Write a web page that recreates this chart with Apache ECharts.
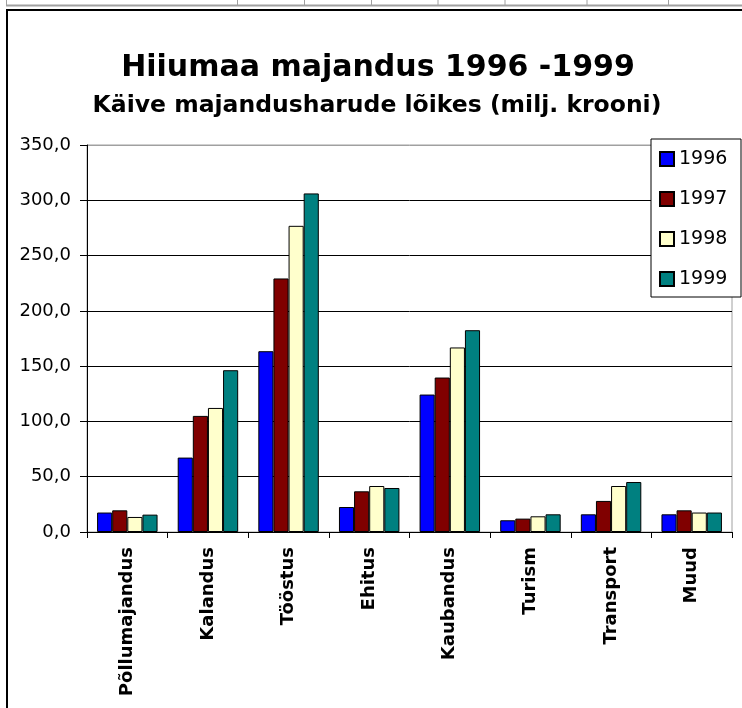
<!DOCTYPE html>
<html>
<head>
<meta charset="utf-8">
<script src="https://cdn.jsdelivr.net/npm/echarts@6/dist/echarts.min.js"></script>
<style>
html,body{margin:0;padding:0;background:#fff;}
#chart{width:742px;height:708px;}
</style>
</head>
<body>
<div id="chart"></div>
<script>
const categories = ['Põllumajandus','Kalandus','Tööstus','Ehitus','Kaubandus','Turism','Transport','Muud'];
const years = ['1996','1997','1998','1999'];
const v1996 = [17.6, 67.3, 163.5, 22.6, 124.3, 10.6, 16.0, 16.0];
const v1997 = [19.6, 105.0, 229.3, 36.8, 139.7, 12.1, 28.1, 19.6];
const v1998 = [13.6, 112.2, 276.9, 41.6, 166.9, 14.2, 41.6, 17.6];
const v1999 = [15.7, 146.3, 306.2, 39.8, 182.5, 16.0, 45.2, 17.6];
const yTickLabels = ['0,0','50,0','100,0','150,0','200,0','250,0','300,0','350,0'];
const colors = ['#0000ff','#800000','#ffffcc','#008080'];
const titleText = 'Hiiumaa majandus 1996 -1999';
const subtitleText = 'Käive majandusharude lõikes (milj. krooni)';

const FONT = 'DejaVu Sans';
const seriesValues = [v1996, v1997, v1998, v1999];

const chart = echarts.init(document.getElementById('chart'), null, {renderer:'canvas'});

const topCells = [6.5, 237.5, 304.5, 371.5, 438, 505, 587, 668.5];
const graphics = [
  {type:'line', shape:{x1:6, y1:5.5, x2:742, y2:5.5}, style:{stroke:'#a0a0a0', lineWidth:2}, silent:true}
];
topCells.forEach(x => graphics.push({type:'line', shape:{x1:x, y1:0, x2:x, y2:5}, style:{stroke:'#a0a0a0', lineWidth:1}, silent:true}));
graphics.push({type:'rect', shape:{x:7, y:10, width:760, height:720}, style:{fill:null, stroke:'#000', lineWidth:2}, silent:true});

const option = {
  backgroundColor:'#fff',
  animation:false,
  title:[
    {text:titleText, left:373, top:48, textAlign:'center',
     textStyle:{fontFamily:FONT, fontWeight:'bold', fontSize:30, color:'#000'}},
    {text:subtitleText, left:372, top:89, textAlign:'center',
     textStyle:{fontFamily:FONT, fontWeight:'bold', fontSize:23.5, color:'#000'}}
  ],
  graphic: graphics,
  legend:{
    data: years,
    orient:'vertical',
    left:651, top:139,
    padding:[10,8,8,8],
    itemWidth:14, itemHeight:14, itemGap:20,
    icon:'rect',
    backgroundColor:'#fff',
    borderColor:'#000', borderWidth:1,
    textStyle:{fontFamily:FONT, fontSize:19, color:'#000', lineHeight:20, width:54}
  },
  grid:{left:87, right:10, top:145, bottom:176, show:true, borderColor:'#a0a0a0', borderWidth:1, backgroundColor:'transparent'},
  xAxis:{
    type:'category',
    data: categories,
    boundaryGap:true,
    axisLine:{show:true, lineStyle:{color:'#000', width:1}},
    axisTick:{show:true, length:6, alignWithLabel:false, lineStyle:{color:'#000'}},
    axisLabel:{rotate:90, interval:0, margin:15, fontFamily:FONT, fontWeight:'bold', fontSize:18, color:'#000'},
    splitLine:{show:false}
  },
  yAxis:{
    type:'value',
    min:0, max:350, interval:50,
    axisLine:{show:true, lineStyle:{color:'#000', width:1}},
    axisTick:{show:true, length:7, lineStyle:{color:'#000'}},
    axisLabel:{margin:16, fontFamily:FONT, fontSize:18, color:'#000',
      formatter: v => yTickLabels[Math.round(v/50)]},
    splitLine:{show:true, lineStyle:{color:['#000','#000','#000','#000','#000','#000','#000','#a0a0a0'], width:1}}
  },
  series: years.map((y,i) => ({
    name:y, type:'bar', data: seriesValues[i],
    barGap:'0%', barCategoryGap:'25%',
    itemStyle:{color:colors[i], borderColor:'#000', borderWidth:1}
  }))
};
chart.setOption(option);
</script>
</body>
</html>
